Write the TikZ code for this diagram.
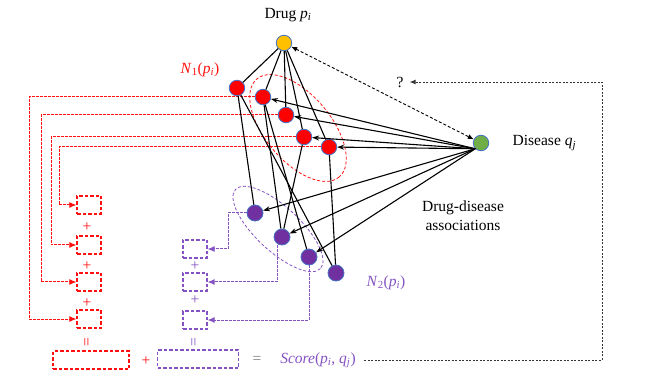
\documentclass[tikz,border=0pt]{standalone}
\usepackage{fontspec}
\setmainfont{Liberation Serif}
\usetikzlibrary{positioning,arrows.meta,backgrounds}
\definecolor{drugc}{HTML}{FFC000}
\definecolor{disc}{HTML}{70AD47}
\definecolor{nbc}{HTML}{7030A0}
\definecolor{rimc}{HTML}{4472C4}
\definecolor{purc}{HTML}{8452C2}
\definecolor{redc}{HTML}{FF1010}
\newcommand{\vsub}[2]{\textit{#1}\textsubscript{\textit{#2}}}

\begin{document}
\begin{tikzpicture}[
  x=1pt, y=-1pt,
  >={Stealth[length=7pt,width=5pt]},
  every node/.style={font=\fontsize{15.5}{19}\selectfont, align=center},
  dot/.style={circle, draw=rimc, minimum size=15.5pt, inner sep=0pt, line width=0.8pt},
  drug/.style={dot, fill=drugc},
  dise/.style={dot, fill=disc},
  nb1/.style={dot, fill=red},
  nb2/.style={dot, fill=nbc, minimum size=16pt},
  sim/.style={line width=1.1pt},
  asc/.style={->, line width=1.1pt},
  rbox/.style={draw=redc, dash pattern=on 3.5pt off 2pt, line width=1.1pt, minimum width=24pt, minimum height=18pt, inner sep=0pt},
  pbox/.style={rbox, draw=purc},
  rpath/.style={color=redc, dash pattern=on 2.5pt off 1.5pt, line width=1pt, -{Latex[length=7pt,width=6pt]}},
  ppath/.style={rpath, color=purc},
  fb/.style={color=black!80, dash pattern=on 2pt off 1.5pt, line width=0.9pt, -{Latex[length=6pt,width=5pt]}}
]
\useasboundingbox (0,0) rectangle (645,387);

\node[drug] (Dr) at (284,43) {};
\node[dise] (D) at (481,143) {};
\node[nb1] (R0) at (237,88) {};
\node[nb1] (R1) at (263,97) {};
\node[nb1] (R2) at (286,115) {};
\node[nb1] (R3) at (304,137) {};
\node[nb1] (R4) at (329,147) {};
\node[nb2] (P1) at (255,213) {};
\node[nb2] (P2) at (282,237) {};
\node[nb2] (P3) at (309,257) {};
\node[nb2] (P4) at (336,273) {};

\node (dl) at (288,15) {Drug \vsub{p}{i}};
\node[right=20pt of D] (dlab) {Disease \vsub{q}{j}};
\node (al) at (463,216) {Drug-disease\\associations};
\node[text=redc] (n1) at (200,70) {\textit{N}\textsubscript{1}(\vsub{p}{i})};
\node[text=purc] (n2) at (386,283) {\textit{N}\textsubscript{2}(\vsub{p}{i})};
\node[inner sep=6pt] (Q) at (400,82) {?};

\node[rbox] (rb1) at (89,205) {};
\node[rbox] (rb2) at (89,245) {};
\node[rbox] (rb3) at (89,282) {};
\node[rbox] (rb4) at (89,319) {};
\node[pbox] (pb1) at (195,249) {};
\node[pbox] (pb2) at (195,282) {};
\node[pbox] (pb3) at (195,320) {};
\node[rbox, minimum width=76pt] (rs) at (91,360) {};
\node[pbox, minimum width=81pt] (ps) at (198,359) {};

\foreach \y [count=\i] in {227,266,303} \node[text=redc] (rp\i) at (87,\y) {+};
\foreach \y [count=\i] in {266,300} \node[text=purc] (pp\i) at (195,\y) {+};
\node[text=redc, rotate=90] (req) at (88,342) {=};
\node[text=purc, rotate=90] (peq) at (195,342) {=};
\node[text=redc] (pl) at (146,361) {+};
\node[text=gray] (eq) at (257,360) {=};
\node[text=purc] (S) at (318,360) {\textit{Score}(\vsub{p}{i}, \vsub{q}{j})};

\begin{scope}[on background layer]
\draw[redc, dash pattern=on 3pt off 2pt, line width=0.8pt, rotate around={-50:(298,128)}] (298,128) ellipse [x radius=64, y radius=33];
\draw[purc, dash pattern=on 3pt off 2pt, line width=0.8pt, rotate around={-43:(278,229)}] (278,229) ellipse [x radius=58, y radius=22];
\draw[rpath] (R1.west) -- (R1.west -| 29,0) |- (rb4.west);
\draw[rpath] (R2.west) -- (R2.west -| 41,0) |- (rb3.west);
\draw[rpath] (R3.west) -- (R3.west -| 51,0) |- (rb2.west);
\draw[rpath] (R4.west) -- (R4.west -| 59,0) |- (rb1.west);
\draw[ppath] (P1.west) -- (P1.west -| 228,0) |- (pb1.east);
\draw[ppath] ([xshift=-5pt]P2.south) |- (pb2.east);
\draw[ppath] (P3.south) |- (pb3.east);
\end{scope}

\foreach \n in {R0,R1,R2,R3,R4} \draw[sim] (Dr) -- (\n);
\foreach \a/\b in {R0/P1,R0/P4,R1/P2,R1/P3,R3/P2,R4/P4} \draw[sim] (\a) -- (\b);
\foreach \n in {R1,R2,R3,R4,P1,P2,P3} \draw[asc] (D.south west) -- (\n);
\draw[<->, >={Latex[length=6pt,width=5pt]}, dash pattern=on 3pt off 2pt, line width=0.9pt] (Dr) -- (D);

\coordinate (turn) at (602,82);
\draw[fb, shorten <=5pt] (S.east) -| (turn) -- (Q);
\end{tikzpicture}
\end{document}
